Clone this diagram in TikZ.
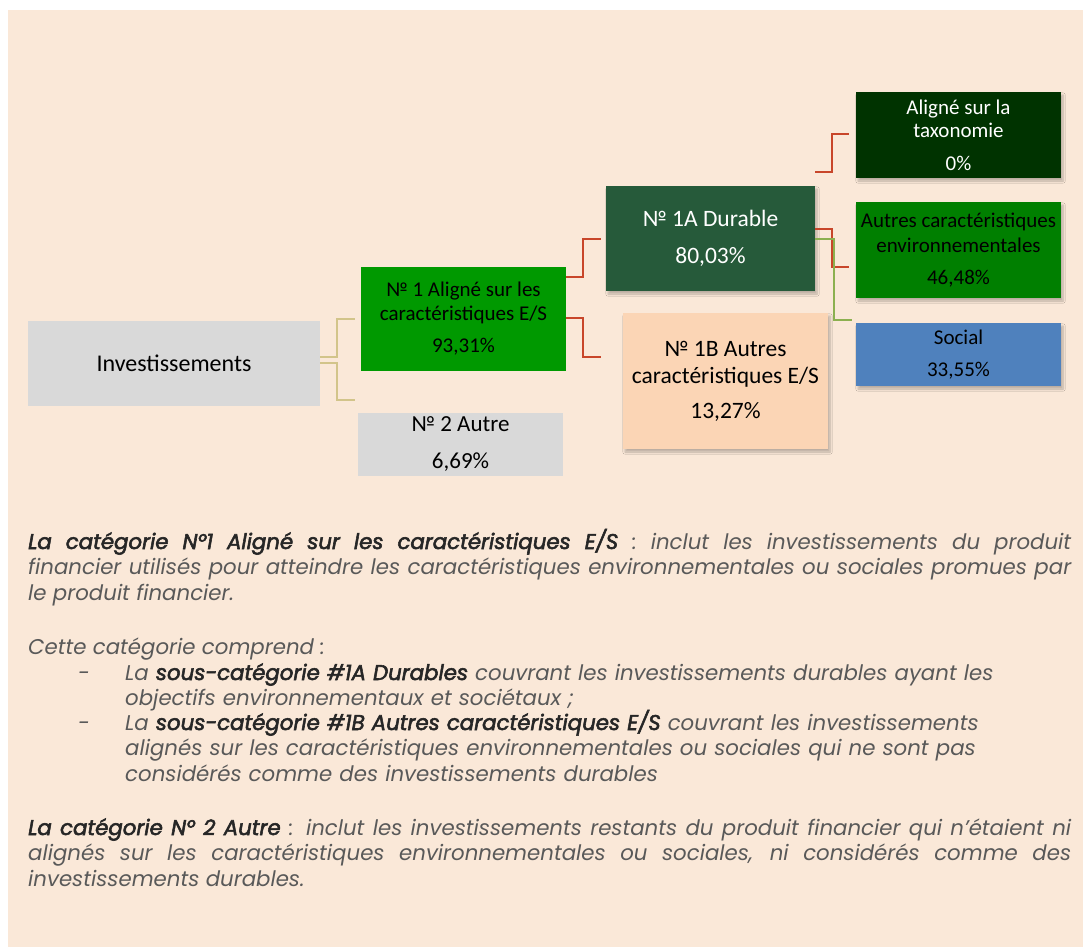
\documentclass[tikz,border=0pt]{standalone}
\usepackage{fontspec}
\setmainfont{Poppins}
\newfontfamily\boxfont{Carlito}
\newfontfamily\fbfam{Poppins}[FakeBold=2.6]
\usetikzlibrary{shadows.blur}
\definecolor{bg}{HTML}{FAE8D8}
\definecolor{boxgray}{HTML}{D9D9D9}
\definecolor{gnone}{HTML}{009900}
\definecolor{durable}{HTML}{265A3A}
\definecolor{taxo}{HTML}{003300}
\definecolor{envgreen}{HTML}{007F00}
\definecolor{social}{HTML}{4F81BD}
\definecolor{peach}{HTML}{FBD5B5}
\definecolor{linkred}{HTML}{C8462A}
\definecolor{linktan}{HTML}{D2C48A}
\definecolor{linkgreen}{HTML}{8CB050}
\definecolor{bodygray}{HTML}{595959}
\definecolor{bodydark}{HTML}{262626}
\newcommand{\emphbold}[1]{{\fbfam\itshape\color{bodydark}#1}}
\begin{document}
\begin{tikzpicture}[x=1pt,y=-1pt,
  box/.style={draw=none, inner sep=0pt, align=center, text=black},
  shad/.style={blur shadow={shadow xshift=2pt, shadow yshift=-3pt, shadow opacity=25, shadow blur steps=6}},
  tanlink/.style={draw=linktan, line width=2pt},
  redlink/.style={draw=linkred, line width=2pt},
  greenlink/.style={draw=linkgreen, line width=2pt},
  para/.style={inner sep=0pt, anchor=base west, text=bodygray, font=\fontsize{21.3}{25.5}\selectfont\itshape}
]
\useasboundingbox (0,0) rectangle (1083,947);
\fill[white] (0,0) rectangle (1083,947);
\fill[bg] (8,10) rectangle (1083,947);

% boxes
\node[box, fill=boxgray, minimum width=292pt, minimum height=85pt,
  font=\boxfont\fontsize{24}{28}\selectfont] (inv) at (174,363.5) {Investissements};
\node[box, fill=gnone, minimum width=205pt, minimum height=104pt,
  font=\boxfont\fontsize{21}{23.5}\selectfont] (n1) at (463.5,319) {№ 1 Aligné sur les\\caractéristiques E/S\\[9pt]93,31\%};
\node[box, fill=boxgray, minimum width=205pt, minimum height=63pt,
  font=\boxfont\fontsize{23}{28}\selectfont] (n2) at (460.5,444.5) {№ 2 Autre\\[9pt]6,69\%};
\node[box, shad, fill=durable, text=white, minimum width=209pt, minimum height=105pt,
  font=\boxfont\fontsize{23.5}{28}\selectfont] (dur) at (710.5,238.5) {№ 1A Durable\\[9pt]80,03\%};
\node[box, shad, fill=peach, minimum width=205pt, minimum height=136pt,
  font=\boxfont\fontsize{23.5}{27}\selectfont] (oth) at (725.5,381) {№ 1B Autres\\caractéristiques E/S\\[8pt]13,27\%};
\node[box, shad, fill=taxo, text=white, minimum width=205pt, minimum height=86pt,
  font=\boxfont\fontsize{21}{23}\selectfont] (tax) at (958.5,135) {Aligné sur la\\taxonomie\\[10pt]0\%};
\node[box, shad, fill=envgreen, minimum width=205pt, minimum height=96pt,
  font=\boxfont\fontsize{21}{25}\selectfont] (env) at (958.5,250) {Autres caractéristiques\\environnementales\\[7pt]46,48\%};
\node[box, shad, fill=social, minimum width=205pt, minimum height=63pt,
  font=\boxfont\fontsize{21}{25}\selectfont] (soc) at (958.5,354.5) {Social\\[7pt]33,55\%};

% free ends
\coordinate (tanA) at (355,319);
\coordinate (tanB) at (355,400);
\coordinate (redB) at (601,357);
\coordinate (redT) at (849,134);
\coordinate (redE) at (849,267);
\coordinate (grnS) at (852,320);

% connectors
\draw[tanlink] ([yshift=6.5pt]inv.east) -- ++(17,0) |- (tanA);
\draw[tanlink] ([yshift=0.5pt]inv.east) -- ++(17,0) |- (tanB);
\draw[redlink] ([yshift=42pt]n1.east) -- ++(17,0) |- ([xshift=-5pt]dur.west);
\draw[redlink] ([yshift=1pt]n1.east) -- ++(17,0) |- (redB);
\draw[redlink] ([yshift=66.5pt]dur.east) -- ++(17,0) |- (redT);
\draw[redlink] ([yshift=9.5pt]dur.east) -- ++(17,0) |- (redE);
\draw[greenlink] (dur.east) -- ++(19,0) |- (grnS);

% body text
\node[para, text width=1043pt, align=justify] (p1) at (28,549)
 {\emphbold{La catégorie N°1 Aligné sur les caractéristiques E/S} : inclut les investissements du produit\linebreak financier utilisés pour atteindre les caractéristiques environnementales ou sociales promues par\linebreak le produit financier.};
\node[para] (p2) at (28,654) {Cette catégorie comprend :};
\node[para] (d1) at (78,680) {-};
\node[para, text width=950pt, align=left] (b1) at (125,680)
 {La \emphbold{sous-catégorie \#1A Durables} couvrant les investissements durables ayant les\\objectifs environnementaux et sociétaux ;};
\node[para] (d2) at (78,730) {-};
\node[para, text width=950pt, align=left] (b2) at (125,730)
 {La \emphbold{sous-catégorie \#1B Autres caractéristiques E/S} couvrant les investissements\\alignés sur les caractéristiques environnementales ou sociales qui ne sont pas\\considérés comme des investissements durables};
\node[para, text width=1043pt, align=justify] (p3) at (28,835)
 {\emphbold{La catégorie N° 2 Autre} :  inclut les investissements restants du produit financier qui n’étaient ni\linebreak alignés sur les caractéristiques environnementales ou sociales, ni considérés comme des\linebreak investissements durables.};
\end{tikzpicture}
\end{document}
